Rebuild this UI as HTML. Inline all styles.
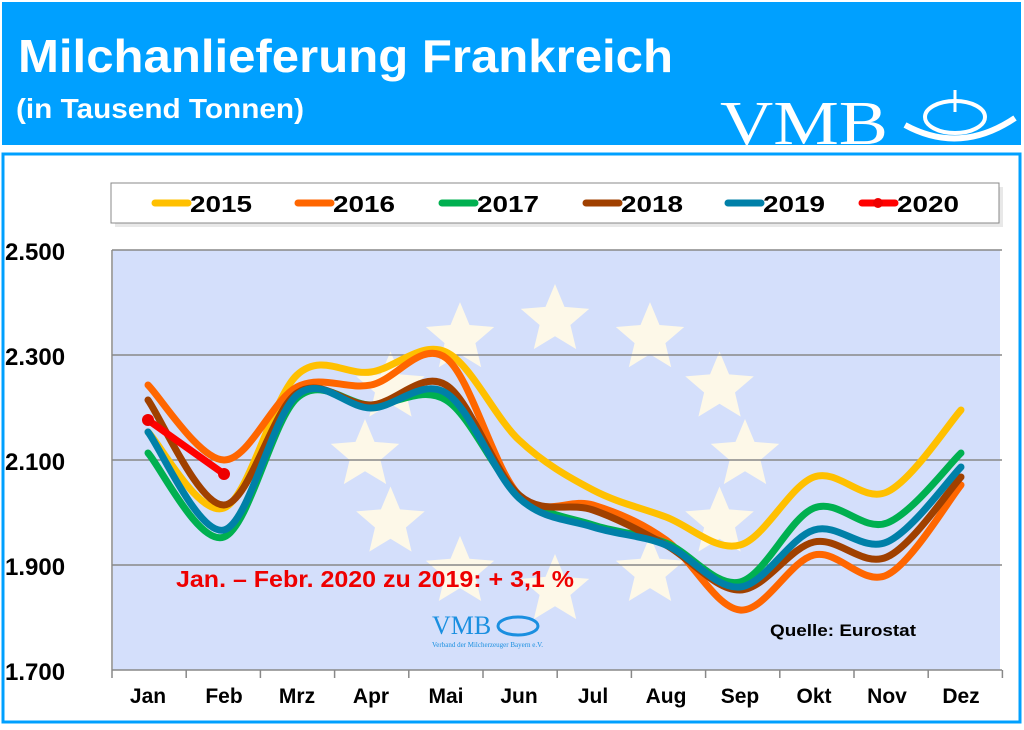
<!DOCTYPE html>
<html><head><meta charset="utf-8"><style>
body{margin:0;width:1024px;height:725px;background:#fff;overflow:hidden;font-family:"Liberation Sans",sans-serif}
</style></head><body>
<svg width="1024" height="725" xmlns="http://www.w3.org/2000/svg" id="s">
<rect x="0" y="0" width="1024" height="725" fill="#fff"/>
<rect x="2" y="2" width="1019" height="143" fill="#00a0ff"/>
<text x="18" y="72" font-size="46" font-weight="bold" fill="#fff" textLength="655" lengthAdjust="spacingAndGlyphs">Milchanlieferung Frankreich</text>
<text x="16" y="118" font-size="28" font-weight="bold" fill="#fff" textLength="288" lengthAdjust="spacingAndGlyphs">(in Tausend Tonnen)</text>
<text x="720" y="144" font-size="62" fill="#fff" font-family="Liberation Serif, serif" textLength="168" lengthAdjust="spacingAndGlyphs">VMB</text>
<path d="M905,125 Q960,155 1015,118" fill="none" stroke="#fff" stroke-width="6"/>
<ellipse cx="955" cy="117" rx="30" ry="16" fill="none" stroke="#fff" stroke-width="4"/>
<line x1="955" y1="90" x2="955" y2="112" stroke="#fff" stroke-width="3"/>
<rect x="3" y="154" width="1017" height="568" fill="#fff" stroke="#00a0ff" stroke-width="3"/>
<rect x="115" y="187" width="888" height="40" fill="#e8e8e8"/>
<rect x="111" y="183" width="888" height="40" fill="#fff" stroke="#888" stroke-width="1"/>
<g font-size="23" font-weight="bold" fill="#000">
<line x1="155" y1="203" x2="188" y2="203" stroke="#ffc000" stroke-width="7" stroke-linecap="round"/><text x="190" y="212" textLength="62" lengthAdjust="spacingAndGlyphs">2015</text>
<line x1="298" y1="203" x2="331" y2="203" stroke="#ff6600" stroke-width="7" stroke-linecap="round"/><text x="333" y="212" textLength="62" lengthAdjust="spacingAndGlyphs">2016</text>
<line x1="442" y1="203" x2="475" y2="203" stroke="#00b050" stroke-width="7" stroke-linecap="round"/><text x="477" y="212" textLength="62" lengthAdjust="spacingAndGlyphs">2017</text>
<line x1="586" y1="203" x2="619" y2="203" stroke="#a04000" stroke-width="7" stroke-linecap="round"/><text x="621" y="212" textLength="62" lengthAdjust="spacingAndGlyphs">2018</text>
<line x1="728" y1="203" x2="761" y2="203" stroke="#0080a8" stroke-width="7" stroke-linecap="round"/><text x="763" y="212" textLength="62" lengthAdjust="spacingAndGlyphs">2019</text>
<line x1="862" y1="203" x2="895" y2="203" stroke="#ff0000" stroke-width="7" stroke-linecap="round"/><circle cx="878" cy="203" r="5" fill="#e00"/><text x="897" y="212" textLength="62" lengthAdjust="spacingAndGlyphs">2020</text>
</g>
<rect x="113" y="250" width="887" height="420" fill="#d4dffb"/>
<g id="stars" fill="#fdf8e8"></g>
<g stroke="#888" stroke-width="1.5">
<line x1="112" y1="250" x2="1002" y2="250"/>
<line x1="112" y1="355" x2="1002" y2="355"/>
<line x1="112" y1="460" x2="1002" y2="460"/>
<line x1="112" y1="565" x2="1002" y2="565"/>
<line x1="112" y1="670" x2="1002" y2="670"/>
<line x1="112" y1="250" x2="112" y2="670"/>
</g>
<g id="ticks" stroke="#888" stroke-width="1.5"></g>
<g font-size="24" font-weight="bold" fill="#000">
<text x="5" y="260">2.500</text><text x="5" y="365">2.300</text><text x="5" y="470">2.100</text><text x="5" y="575">1.900</text><text x="5" y="680">1.700</text>
</g>
<g id="mon" font-size="21" font-weight="bold" fill="#000" text-anchor="middle"></g>
<g id="lines" fill="none" stroke-width="7" stroke-linecap="round"></g>
<text x="176" y="587" font-size="23" font-weight="bold" fill="#ee0000" textLength="398" lengthAdjust="spacingAndGlyphs">Jan. – Febr. 2020 zu 2019:  + 3,1 %</text>
<text x="432" y="634" font-size="26" fill="#1a8fe0" font-family="Liberation Serif, serif">VMB</text>
<ellipse cx="518" cy="626" rx="20" ry="9" fill="none" stroke="#1a8fe0" stroke-width="3"/>
<text x="432" y="647" font-size="7" fill="#1a8fe0" font-family="Liberation Serif, serif">Verband der Milcherzeuger Bayern e.V.</text>
<text x="770" y="636" font-size="17" font-weight="bold" fill="#000" textLength="146" lengthAdjust="spacingAndGlyphs">Quelle: Eurostat</text>
</svg>
<script>
var NS="http://www.w3.org/2000/svg";
function el(p,t,a,txt){var e=document.createElementNS(NS,t);for(var k in a)e.setAttribute(k,a[k]);if(txt)e.textContent=txt;document.getElementById(p).appendChild(e);return e;}
var xs=[148,224,297,371,446,519,593,666,740,814,887,961];
var m=["Jan","Feb","Mrz","Apr","Mai","Jun","Jul","Aug","Sep","Okt","Nov","Dez"];
for(var i=0;i<12;i++){el('mon','text',{x:xs[i],y:703},m[i]);}
for(var i=0;i<=12;i++){var x=112+i*74.2;el('ticks','line',{x1:x,y1:670,x2:x,y2:678});}
function star(cx,cy,r){var p=[];for(var i=0;i<10;i++){var a=-Math.PI/2+i*Math.PI/5,rr=i%2?r*0.45:r;p.push((cx+rr*Math.cos(a)).toFixed(1)+","+(cy+rr*Math.sin(a)).toFixed(1));}el('stars','polygon',{points:p.join(" ")});}
for(var i=0;i<12;i++){var a=-Math.PI/2+i*Math.PI/6;star(555+190*Math.cos(a),455+135*Math.sin(a),36);}
function path(ys,c){var p="M"+xs[0]+","+ys[0];for(var i=0;i<ys.length-1;i++){var x0=xs[Math.max(i-1,0)],y0=ys[Math.max(i-1,0)],x1=xs[i],y1=ys[i],x2=xs[i+1],y2=ys[i+1],x3=xs[Math.min(i+2,ys.length-1)],y3=ys[Math.min(i+2,ys.length-1)];
p+=" C"+(x1+(x2-x0)/6)+","+(y1+(y2-y0)/6)+" "+(x2-(x3-x1)/6)+","+(y2-(y3-y1)/6)+" "+x2+","+y2;}
el('lines','path',{d:p,stroke:c});}
path([432,508,375,372,352,440,490,517,545,477,492,410],"#ffc000");
path([385,460,387,385,358,495,505,540,610,555,575,485],"#ff6600");
path([453,537,398,405,400,495,525,543,582,508,523,453],"#00b050");
path([400,505,393,405,385,495,510,545,590,542,557,477],"#a04000");
path([432,530,395,408,393,498,527,545,587,530,542,467],"#0080a8");
path([420,474],"#ff0000");
el('lines','circle',{cx:148,cy:420,r:6,fill:"#e00",stroke:"none"});
el('lines','circle',{cx:224,cy:474,r:6,fill:"#e00",stroke:"none"});
</script>
</body></html>
